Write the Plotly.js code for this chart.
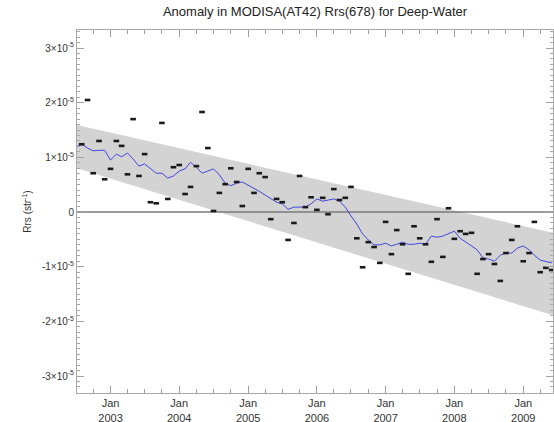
<!DOCTYPE html>
<html>
<head>
<meta charset="utf-8">
<script src="https://cdn.plot.ly/plotly-3.0.1.min.js"></script>
<style>html,body{margin:0;padding:0;background:#fff;}#chart{width:554px;height:422px;}</style>
</head>
<body>
<div id="chart"></div>
<script>
// Monthly dates (first of month)
const months = [
 '2002-07-01','2002-08-01','2002-09-01','2002-10-01','2002-11-01','2002-12-01',
 '2003-01-01','2003-02-01','2003-03-01','2003-04-01','2003-05-01','2003-06-01','2003-07-01','2003-08-01','2003-09-01','2003-10-01','2003-11-01','2003-12-01',
 '2004-01-01','2004-02-01','2004-03-01','2004-04-01','2004-05-01','2004-06-01','2004-07-01','2004-08-01','2004-09-01','2004-10-01','2004-11-01','2004-12-01',
 '2005-01-01','2005-02-01','2005-03-01','2005-04-01','2005-05-01','2005-06-01','2005-07-01','2005-08-01','2005-09-01','2005-10-01','2005-11-01','2005-12-01',
 '2006-01-01','2006-02-01','2006-03-01','2006-04-01','2006-05-01','2006-06-01','2006-07-01','2006-08-01','2006-09-01','2006-10-01','2006-11-01','2006-12-01',
 '2007-01-01','2007-02-01','2007-03-01','2007-04-01','2007-05-01','2007-06-01','2007-07-01','2007-08-01','2007-09-01','2007-10-01','2007-11-01','2007-12-01',
 '2008-01-01','2008-02-01','2008-03-01','2008-04-01','2008-05-01','2008-06-01','2008-07-01','2008-08-01','2008-09-01','2008-10-01','2008-11-01','2008-12-01',
 '2009-01-01','2009-02-01','2009-03-01','2009-04-01','2009-05-01','2009-06-01'
];
// Monthly anomaly of Rrs(678), in units of 1e-5 sr^-1
const anomaly = [
 1.02,1.24,2.05,0.71,1.30,0.60,0.79,1.30,1.21,0.69,
 1.70,0.66,1.06,0.18,0.16,1.63,0.24,0.82,0.86,0.33,
 0.46,0.84,1.83,1.17,0.02,0.35,0.51,0.80,0.55,0.11,
 0.79,0.35,0.71,0.64,-0.13,0.24,0.18,-0.51,-0.20,0.66,
 0.09,0.27,0.04,0.26,-0.04,0.42,0.22,0.26,0.46,-0.48,
 -1.01,-0.55,-0.64,-0.93,-0.18,-0.77,-0.33,-0.59,-1.13,-0.26,
 -0.48,-0.59,-0.91,-0.13,-0.82,0.07,-0.49,-0.35,-0.40,-0.38,
 -1.13,-0.86,-0.77,-0.95,-1.26,-0.75,-0.51,-0.26,-0.90,-0.75,
 -0.18,-1.10,-1.02,-1.06
];
// Running mean (blue line), units of 1e-5
const runningMean = [
 1.19,1.24,1.17,1.12,1.13,1.13,0.95,1.06,1.01,1.08,
 0.97,0.84,0.88,0.79,0.71,0.71,0.62,0.66,0.75,0.79,
 0.91,0.82,0.71,0.75,0.79,0.68,0.53,0.48,0.53,0.55,
 0.49,0.44,0.38,0.31,0.24,0.18,0.15,0.05,0.09,0.09,
 0.09,0.15,0.24,0.20,0.22,0.24,0.20,0.09,-0.07,-0.22,
 -0.40,-0.51,-0.60,-0.60,-0.57,-0.62,-0.59,-0.55,-0.59,-0.59,
 -0.57,-0.59,-0.44,-0.46,-0.44,-0.40,-0.35,-0.48,-0.55,-0.62,
 -0.69,-0.84,-0.86,-0.90,-0.79,-0.75,-0.75,-0.66,-0.62,-0.69,
 -0.79,-0.88,-0.90,-0.93
];
// Trend band (grey), units of 1e-5
const bandDates = ['2002-07-07','2009-06-08'];
const bandUpper = [1.59,-0.38];
const bandLower = [0.80,-1.89];
// Zero reference line
const zeroDates = ['2002-07-07','2009-06-08'];
const zeroValues = [0,0];
// Ticks
const xTickVals = ['2003-01-01','2004-01-01','2005-01-01','2006-01-01','2007-01-01','2008-01-01','2009-01-01'];
const xTickText = ['Jan<br>2003','Jan<br>2004','Jan<br>2005','Jan<br>2006','Jan<br>2007','Jan<br>2008','Jan<br>2009'];
const yTickVals = [-3,-2,-1,0,1,2,3];
const yTickText = ['-3×10<sup>-5</sup>','-2×10<sup>-5</sup>','-1×10<sup>-5</sup>','0','1×10<sup>-5</sup>','2×10<sup>-5</sup>','3×10<sup>-5</sup>'];

const traces = [
 {x: bandDates, y: bandLower, type:'scatter', mode:'lines', line:{width:0, color:'rgba(0,0,0,0)'}, hoverinfo:'skip', showlegend:false},
 {x: bandDates, y: bandUpper, type:'scatter', mode:'lines', fill:'tonexty', fillcolor:'rgb(211,211,211)', line:{width:0, color:'rgba(0,0,0,0)'}, hoverinfo:'skip', showlegend:false},
 {x: zeroDates, y: zeroValues, type:'scatter', mode:'lines', line:{width:1.6, color:'#7a7a7a'}, showlegend:false},
 {x: months, y: runningMean, type:'scatter', mode:'lines', line:{width:1, color:'#4545de'}, showlegend:false},
 {x: months, y: anomaly, type:'scatter', mode:'markers', cliponaxis:false,
  marker:{symbol:'line-ew-open', size:4, color:'#1a1a1a', line:{width:2.6, color:'#1a1a1a'}}, showlegend:false}
];

const font = {family:'"Liberation Sans", Arial, Helvetica, sans-serif', size:11, color:'#333'};
const layout = {
 width:554, height:422,
 margin:{l:77, r:1, t:30, b:29},
 paper_bgcolor:'#fff', plot_bgcolor:'#fff',
 font: font,
 showlegend:false,
 title:{text:'Anomaly in MODISA(AT42) Rrs(678) for Deep-Water', x:0.5, xref:'paper', y:0.972, yref:'container', yanchor:'middle',
  font:{family:font.family, size:13, color:'#222'}},
 xaxis:{type:'date', range:['2002-07-07','2009-06-08'], tickmode:'array', tickvals:xTickVals, ticktext:xTickText,
  ticks:'inside', ticklen:7, tickwidth:1, tickcolor:'#a0a0a0', showline:true, linecolor:'#a8a8a8', linewidth:1, mirror:'ticks',
  showgrid:false, zeroline:false, layer:'above traces', tickfont:{size:11, color:'#333'},
  minor:{tickmode:'linear', tick0:'2002-01-01', dtick:'M3', ticks:'inside', ticklen:4, tickcolor:'#a0a0a0', showgrid:false}},
 yaxis:{range:[-3.31,3.33], tickmode:'array', tickvals:yTickVals, ticktext:yTickText,
  ticks:'inside', ticklen:7, tickwidth:1, tickcolor:'#a0a0a0', showline:true, linecolor:'#a8a8a8', linewidth:1, mirror:'ticks',
  showgrid:false, zeroline:false, layer:'above traces', tickfont:{size:10, color:'#333'},
  title:{text:'Rrs (str<sup>-1</sup>)', font:{size:10, color:'#333'}, standoff:8},
  minor:{tickmode:'linear', tick0:0, dtick:0.1, ticks:'inside', ticklen:3, tickcolor:'#a8a8a8', showgrid:false}}
};

Plotly.newPlot('chart', traces, layout, {displayModeBar:false, staticPlot:true});
</script>
</body>
</html>
